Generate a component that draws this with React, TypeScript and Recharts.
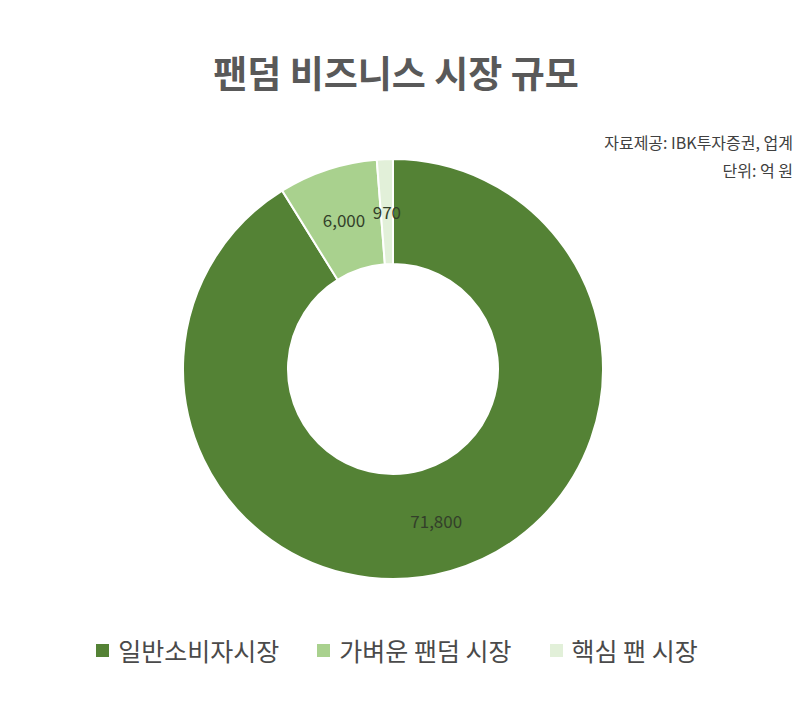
import { PieChart, Pie, Cell } from "recharts";

const categories = ["일반소비자시장", "가벼운 팬덤 시장", "핵심 팬 시장"];
const values = [71800, 6000, 970];
const colors = ["#548235", "#a9d18e", "#e2f0d9"];

const title = "팬덤 비즈니스 시장 규모";
const sourceNote = "자료제공: IBK투자증권, 업계";
const unitNote = "단위: 억 원";

const data = categories.map((name, i) => ({ name, value: values[i] }));

const FONT = '"Noto Sans CJK KR", "Noto Sans", sans-serif';
const RADIAN = Math.PI / 180;

function renderLabel(props: any) {
  const { cx, cy, midAngle, innerRadius, outerRadius, value } = props;
  const r = (innerRadius + outerRadius) / 2;
  const x = cx + r * Math.cos(-midAngle * RADIAN);
  const y = cy + r * Math.sin(-midAngle * RADIAN);
  return (
    <text
      x={x}
      y={y}
      fill="#333f2a"
      fontSize={17}
      fontFamily={FONT}
      textAnchor="middle"
      dominantBaseline="central"
    >
      {value.toLocaleString("en-US")}
    </text>
  );
}

export default function App() {
  return (
    <div
      style={{
        position: "absolute",
        left: 0,
        top: 0,
        width: 800,
        height: 715,
        background: "#ffffff",
        fontFamily: FONT,
      }}
    >
      <div
        style={{
          position: "absolute",
          top: 45,
          left: 0,
          width: 792,
          textAlign: "center",
          fontSize: 37,
          fontWeight: 700,
          color: "#595959",
        }}
      >
        {title}
      </div>
      <div
        style={{
          position: "absolute",
          top: 128,
          right: 7,
          textAlign: "right",
          fontSize: 16,
          lineHeight: "28px",
          color: "#404040",
        }}
      >
        <div>{sourceNote}</div>
        <div>{unitNote}</div>
      </div>

      <div style={{ position: "absolute", left: 0, top: 0 }}>
        <PieChart width={800} height={715}>
          <Pie
            data={data}
            dataKey="value"
            nameKey="name"
            cx={388}
            cy={364}
            innerRadius={105}
            outerRadius={210}
            startAngle={90}
            endAngle={-270}
            stroke="#ffffff"
            strokeWidth={2}
            label={renderLabel}
            labelLine={false}
            isAnimationActive={false}
          >
            {data.map((d, i) => (
              <Cell key={d.name} fill={colors[i]} />
            ))}
          </Pie>
        </PieChart>
      </div>

      <div
        style={{
          position: "absolute",
          top: 632,
          left: 0,
          width: 794,
          display: "flex",
          justifyContent: "center",
          gap: 38,
          fontSize: 25,
          color: "#4a4a4a",
        }}
      >
        {categories.map((c, i) => (
          <div key={c} style={{ display: "flex", alignItems: "center" }}>
            <span
              style={{
                display: "inline-block",
                width: 13,
                height: 13,
                background: colors[i],
                marginRight: 9,
              }}
            />
            <span>{c}</span>
          </div>
        ))}
      </div>
    </div>
  );
}
